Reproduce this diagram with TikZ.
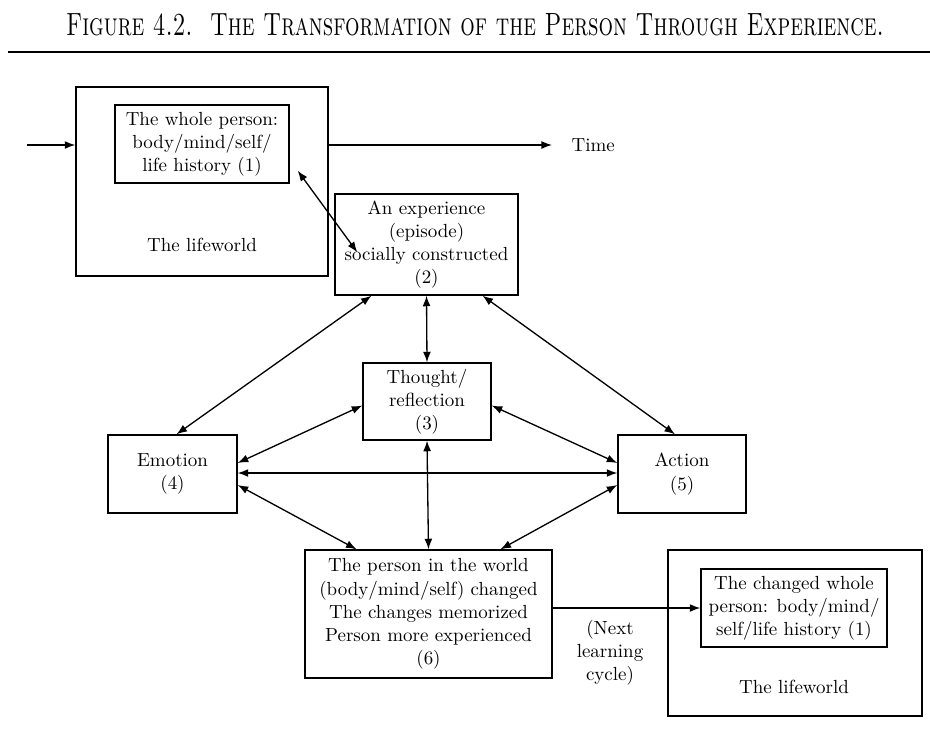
\documentclass[tikz,border=0pt]{standalone}
\usepackage{graphicx}
\usetikzlibrary{arrows.meta}
\tikzset{
	box/.style={draw, line width=0.8pt, align=center, inner sep=0pt, font=\fontsize{10.8}{13.2}\selectfont},
	lbl/.style={align=center, inner sep=0pt, font=\fontsize{10.8}{13.2}\selectfont},
	link/.style={line width=0.75pt}
}
\begin{document}
\begin{tikzpicture}[x=0.02cm, y=-0.02cm, >={Latex[length=6pt,width=4.5pt]}]
			%\draw [help lines, step=50] (0,0) grid (930,751);
			\useasboundingbox (0,0) rectangle (930,751);
			\node[anchor=base, inner sep=0pt] (title) at (475,35) {\scalebox{0.71}[1]{\fontsize{18.3}{20}\selectfont\scshape Figure 4.2.\ \ The Transformation of the Person Through Experience.}};
			\draw[line width=1.1pt] (8,52) -- (930,52);
			\node[box, minimum width=5.04cm, minimum height=3.78cm] (life1) at (202,181.5) {};
			\node[box, minimum width=3.48cm, minimum height=1.56cm] (inner1) at (202,144) {The whole person:\\body/mind/self/\\life history (1)};
			\node[lbl] (world1) at (202,245) {The lifeworld};
			\node[box, minimum width=3.66cm, minimum height=2.02cm] (exper) at (426.5,244.5) {An experience\\(episode)\\socially constructed\\(2)};
			\node[box, minimum width=2.56cm, minimum height=1.54cm] (thought) at (427,401.5) {Thought/\\reflection\\(3)};
			\node[box, minimum width=2.58cm, minimum height=1.56cm] (emotion) at (172.5,474) {Emotion\\(4)};
			\node[box, minimum width=2.56cm, minimum height=1.56cm] (action) at (682,474) {Action\\(5)};
			\node[box, minimum width=4.94cm, minimum height=2.56cm] (changed) at (428.5,614) {The person in the world\\(body/mind/self) changed\\The changes memorized\\Person more experienced\\(6)};
			\node[box, minimum width=5.08cm, minimum height=3.32cm] (life2) at (795,633) {};
			\node[box, minimum width=3.72cm, minimum height=1.56cm] (inner2) at (794,608) {The changed whole\\person: body/mind/\\self/life history (1)};
			\node[lbl] (world2) at (794,687) {The lifeworld};
			\node[lbl] (cycle) at (610,653) {(Next\\learning\\cycle)};
			\node[lbl, anchor=west, inner xsep=11pt] (time) at (552,145) {Time};
			\coordinate (start) at (27,145);
			\draw[link, ->] (start) -- (start -| life1.west);
			\draw[link, ->] (life1.east |- time.west) -- (time.west);
			\draw[link, <->] ([shift={(8,-13)}]inner1.south east) -- ([shift={(23,59)}]exper.north west);
			\draw[link, <->] ([shift={(-55,0)}]exper.south) -- ([shift={(4,0)}]emotion.north);
			\draw[link, <->] (exper.south) -- (thought.north);
			\draw[link, <->] ([shift={(56,0)}]exper.south) -- ([shift={(-7,0)}]action.north);
			\draw[link, <->] ([shift={(0,4)}]thought.west) -- ([shift={(0,-11)}]emotion.east);
			\draw[link, <->] ([shift={(0,4)}]thought.east) -- ([shift={(0,-11)}]action.west);
			\draw[link, <->] ([shift={(0,-1)}]emotion.east) -- ([shift={(0,-1)}]action.west);
			\draw[link, <->] ([shift={(0,11)}]emotion.east) -- ([shift={(-72,0)}]changed.north);
			\draw[link, <->] (thought.south) -- (changed.north);
			\draw[link, <->] ([shift={(0,11)}]action.west) -- ([shift={(72,0)}]changed.north);
			\draw[link, ->] (changed.east |- inner2.west) -- (inner2.west);
		\end{tikzpicture}
\end{document}
